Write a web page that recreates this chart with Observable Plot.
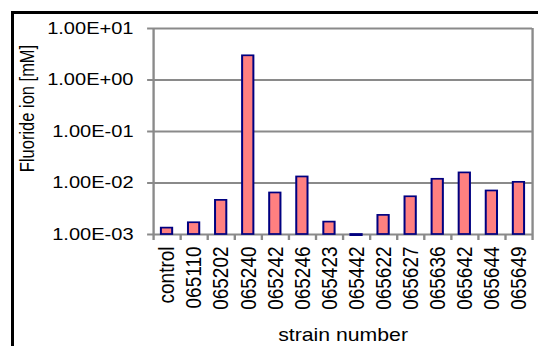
<!DOCTYPE html>
<html>
<head>
<meta charset="utf-8">
<script src="https://cdn.jsdelivr.net/npm/d3@7"></script>
<script src="https://cdn.jsdelivr.net/npm/@observablehq/plot@0.6"></script>
<style>
  html, body { margin: 0; padding: 0; background: #fff; overflow: hidden; width: 538px; height: 346px; }
  #wrap { position: relative; width: 538px; height: 346px; overflow: hidden; }
  #chart { position: absolute; left: 0; top: 0; transform-origin: 0 0; z-index: 1; }
  #frame { position: absolute; left: 11px; top: 11px; width: 600px; height: 400px; border: 3px solid #000; box-sizing: border-box; z-index: 2; pointer-events: none; }
  #chart svg { display: block; font-family: "Liberation Sans", Arial, sans-serif; }
</style>
</head>
<body>
<div id="wrap"><div id="chart"></div><div id="frame"></div></div>
<script>
const categories = ["control", "065110", "065202", "065240", "065242", "065246", "065423", "065442", "065622", "065627", "065636", "065642", "065644", "065649"];
const values = [0.00133, 0.00169, 0.0046, 2.95, 0.0064, 0.0131, 0.00174, 0.00095, 0.00235, 0.0054, 0.0118, 0.0157, 0.0070, 0.0103];
const yTicks = [0.001, 0.01, 0.1, 1, 10];
const yTickLabels = ["1.00E-03", "1.00E-02", "1.00E-01", "1.00E+00", "1.00E+01"];
const yTitle = "Fluoride ion [mM]";
const xTitle = "strain number";

// Reference image is horizontally stretched; draw narrower and stretch the SVG.
const stretch = 1.18;
const W = 538 / stretch;
const H = 346;

const data = categories.map((c, i) => ({category: c, index: i, value: values[i]}));
const grid = "#8a8a8a";
const fs = 17;
const tickLabel = d => yTickLabels[yTicks.findIndex(t => Math.abs(Math.log10(t) - Math.log10(d)) < 1e-6)];

const chart = Plot.plot({
  width: W,
  height: H,
  marginLeft: 153 / stretch,
  marginRight: W - 532 / stretch,
  marginTop: 28,
  marginBottom: 112,
  style: {fontSize: fs + "px", fontFamily: "Liberation Sans, Arial, sans-serif", color: "#000", background: "#fff"},
  x: {type: "linear", domain: [0, categories.length], axis: null},
  y: {type: "log", domain: [0.001, 10], axis: null},
  marks: [
    Plot.ruleY(yTicks, {stroke: grid, strokeWidth: 2}),
    Plot.ruleX([0, categories.length], {y1: 0.001, y2: 10, stroke: grid, strokeWidth: 2}),
    Plot.rectY(data, {
      x1: "index",
      x2: d => d.index + 1,
      y1: () => 0.001,
      y2: "value",
      insetLeft: 6.7,
      insetRight: 6.7,
      fill: "#FF8080",
      stroke: "#000080",
      strokeWidth: 1.7,
      clip: false
    }),
    Plot.axisX({ticks: d3.range(categories.length + 1), tickFormat: () => "", tickSize: 6, stroke: grid, strokeWidth: 2, label: null}),
    Plot.axisY({ticks: yTicks, tickFormat: tickLabel, tickSize: 5, tickPadding: 12, stroke: grid, strokeWidth: 2, fontSize: fs, fill: "#000", label: null}),
    Plot.text(data, {
      x: d => d.index + 0.5,
      frameAnchor: "bottom",
      text: "category",
      rotate: -90,
      textAnchor: "end",
      lineAnchor: "middle",
      dy: 12,
      fontSize: 19,
      fill: "#000"
    }),
    Plot.text([xTitle], {frameAnchor: "bottom", textAnchor: "middle", lineAnchor: "middle", dy: 101, fontSize: 18, fill: "#000"}),
    Plot.text([yTitle], {frameAnchor: "left", textAnchor: "middle", lineAnchor: "middle", dx: -(153 - 27) / stretch, dy: -23, rotate: -90, fontSize: 16.5, fill: "#000"})
  ]
});

const holder = document.getElementById("chart");
holder.appendChild(chart);
holder.style.transform = `scaleX(${stretch})`;
</script>
</body>
</html>
